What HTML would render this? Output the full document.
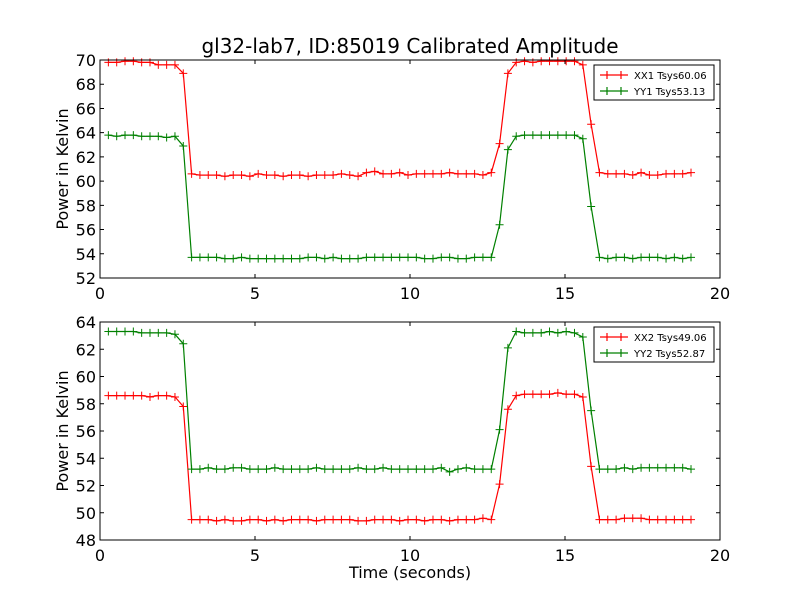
<!DOCTYPE html>
<html><head><meta charset="utf-8"><style>
body{margin:0;background:#fff;}
svg{display:block;font-family:"DejaVu Sans","Liberation Sans",sans-serif;}
</style></head><body>
<svg id="c" width="800" height="600" viewBox="0 0 800 600"></svg>
<script>
const t0 = 0.27, dt = 0.2685;
const xx1 = [69.8,69.8,69.9,69.9,69.8,69.8,69.6,69.6,69.6,68.9,60.6,60.5,60.5,60.5,60.4,60.5,60.5,60.4,60.6,60.5,60.5,60.4,60.5,60.5,60.4,60.5,60.5,60.5,60.6,60.5,60.4,60.7,60.8,60.6,60.6,60.7,60.5,60.6,60.6,60.6,60.6,60.7,60.6,60.6,60.6,60.5,60.7,63.1,68.9,69.8,69.9,69.8,69.9,69.9,69.9,69.9,69.9,69.6,64.7,60.7,60.6,60.6,60.6,60.5,60.7,60.5,60.5,60.6,60.6,60.6,60.7];
const yy1 = [63.8,63.7,63.8,63.8,63.7,63.7,63.7,63.6,63.7,62.9,53.7,53.7,53.7,53.7,53.6,53.6,53.7,53.6,53.6,53.6,53.6,53.6,53.6,53.6,53.7,53.7,53.6,53.7,53.6,53.6,53.6,53.7,53.7,53.7,53.7,53.7,53.7,53.7,53.6,53.6,53.7,53.7,53.6,53.6,53.7,53.7,53.7,56.4,62.6,63.7,63.8,63.8,63.8,63.8,63.8,63.8,63.8,63.5,57.9,53.7,53.6,53.7,53.7,53.6,53.7,53.7,53.7,53.6,53.7,53.6,53.7];
const xx2 = [58.6,58.6,58.6,58.6,58.6,58.5,58.6,58.6,58.5,57.8,49.5,49.5,49.5,49.4,49.5,49.4,49.4,49.5,49.5,49.4,49.5,49.4,49.5,49.5,49.5,49.4,49.5,49.5,49.5,49.5,49.4,49.4,49.5,49.5,49.5,49.4,49.5,49.5,49.4,49.5,49.5,49.4,49.5,49.5,49.5,49.6,49.5,52.1,57.6,58.6,58.7,58.7,58.7,58.7,58.8,58.7,58.7,58.5,53.4,49.5,49.5,49.5,49.6,49.6,49.6,49.5,49.5,49.5,49.5,49.5,49.5];
const yy2 = [63.3,63.3,63.3,63.3,63.2,63.2,63.2,63.2,63.1,62.4,53.2,53.2,53.3,53.2,53.2,53.3,53.3,53.2,53.2,53.2,53.3,53.2,53.2,53.2,53.2,53.3,53.2,53.2,53.2,53.2,53.3,53.2,53.2,53.3,53.2,53.2,53.2,53.2,53.2,53.2,53.3,53.0,53.2,53.3,53.2,53.2,53.2,56.1,62.1,63.3,63.2,63.2,63.2,63.3,63.2,63.3,63.2,62.9,57.5,53.2,53.2,53.2,53.3,53.2,53.3,53.3,53.3,53.3,53.3,53.3,53.2];
const xTicks = [0,5,10,15,20];
const yTicksTop = [52,54,56,58,60,62,64,66,68,70];
const yTicksBot = [48,50,52,54,56,58,60,62,64];
const legendTop = ["XX1 Tsys60.06","YY1 Tsys53.13"];
const legendBot = ["XX2 Tsys49.06","YY2 Tsys52.87"];
const svg = document.getElementById('c');
const NS = 'http://www.w3.org/2000/svg';
function mk(tag, attrs, parent){const e=document.createElementNS(NS,tag);for(const k in attrs)e.setAttribute(k,attrs[k]);(parent||svg).appendChild(e);return e;}
function panel(top, bottom, yTicks, series, legend, name, xlabel){
  const L=100,R=720,ymin=yTicks[0],ymax=yTicks[yTicks.length-1];
  const xs=v=>L+(v-0)/20*(R-L);
  const ys=v=>bottom-(v-ymin)/(ymax-ymin)*(bottom-top);
  const g=mk('g',{});
  
  
  series.forEach((s,si)=>{
    const pts=s.data.map((v,i)=>xs(t0+i*dt).toFixed(1)+','+ys(v).toFixed(1)).join(' ');
    const pl=mk('polyline',{points:pts,fill:'none',stroke:s.color,'stroke-width':1.2},g);
    
    
    s.data.forEach((v,i)=>{
      const x=xs(t0+i*dt), y=ys(v);
      const m=mk('path',{d:`M${x-4},${y}H${x+4}M${x},${y-4}V${y+4}`,stroke:s.color,'stroke-width':1},g);
      
      
    });
  });
  mk('rect',{x:L,y:top,width:R-L,height:bottom-top,fill:'none',stroke:'#000','stroke-width':1},g);
  xTicks.forEach(v=>{
    const x=xs(v);
    mk('path',{d:`M${x},${bottom}v-4M${x},${top}v4`,stroke:'#000'},g);
    const t=mk('text',{x:x,y:bottom+21,'text-anchor':'middle','font-size':16},g);
    t.textContent=v;
    
    
  });
  yTicks.forEach(v=>{
    const y=ys(v);
    mk('path',{d:`M${L},${y}h4M${R},${y}h-4`,stroke:'#000'},g);
    const t=mk('text',{x:L-4,y:y+6,'text-anchor':'end','font-size':16},g);
    t.textContent=v;
    
    
  });
  const yl=mk('text',{transform:`translate(68,${(top+bottom)/2}) rotate(-90)`,'text-anchor':'middle','font-size':16},g);
  yl.textContent='Power in Kelvin';
  
  
  if(xlabel){
    const xl=mk('text',{x:410,y:578,'text-anchor':'middle','font-size':16},g);
    xl.textContent=xlabel;
    
    
  }
  const lg=mk('g',{},g);
  
  
  mk('rect',{x:594,y:top+5,width:120,height:35,fill:'#fff',stroke:'#000'},lg);
  series.forEach((s,i)=>{
    const y=top+15+i*16;
    mk('path',{d:`M600,${y}H628M607,${y-4}v8M621,${y-4}v8`,stroke:s.color,'stroke-width':1.2},lg);
    const t=mk('text',{x:634,y:y+4,'font-size':10},lg);
    t.textContent=legend[i];
    
    
  });
}
panel(60,278,yTicksTop,[{data:xx1,color:'#ff0000',name:'xx1'},{data:yy1,color:'#008000',name:'yy1'}],legendTop,'top-panel',null);
panel(322,540,yTicksBot,[{data:xx2,color:'#ff0000',name:'xx2'},{data:yy2,color:'#008000',name:'yy2'}],legendBot,'bottom-panel','Time (seconds)');
const ti=mk('text',{x:410,y:53,'text-anchor':'middle','font-size':20});
ti.textContent='gl32-lab7, ID:85019 Calibrated Amplitude';


</script>
</body></html>
